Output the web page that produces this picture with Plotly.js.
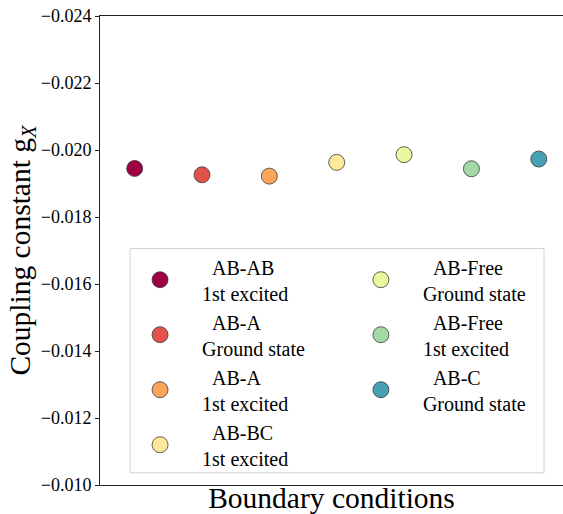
<!DOCTYPE html>
<html><head><meta charset="utf-8">
<script src="https://cdn.plot.ly/plotly-3.0.1.min.js"></script>
<style>html,body{margin:0;padding:0;background:#fff}</style>
</head><body>
<div id="chart" style="width:563px;height:514px"></div>
<script>
const categories = ["AB-AB 1st excited","AB-A Ground state","AB-A 1st excited","AB-BC 1st excited","AB-Free Ground state","AB-Free 1st excited","AB-C Ground state"];
const legendLabels = [
  "&nbsp;&nbsp;AB-AB<br>1st excited",
  "&nbsp;&nbsp;AB-A<br>Ground state",
  "&nbsp;&nbsp;AB-A<br>1st excited",
  "&nbsp;&nbsp;AB-BC<br>1st excited",
  "&nbsp;&nbsp;AB-Free<br>Ground state",
  "&nbsp;&nbsp;AB-Free<br>1st excited",
  "&nbsp;&nbsp;AB-C<br>Ground state"
];
const xPositions = [0,1,2,3,4,5,6];
const gValues = [-0.01945,-0.01926,-0.01922,-0.01963,-0.01986,-0.01944,-0.01973];
const colors = ["#9e0142","#e0524a","#fca55d","#fee89a","#eaf79f","#a2d9a4","#47a0b3"];
const legendOf = ["legend","legend","legend","legend","legend2","legend2","legend2"];

const FONT = "Liberation Serif, Times New Roman, serif";
const traces = categories.map((c,i)=>({
  type:"scatter", mode:"markers",
  x:[xPositions[i]], y:[gValues[i]],
  name: legendLabels[i],
  legend: legendOf[i],
  legendgroup: "g"+i,
  marker:{size:16, color:colors[i], line:{color:"#3a3a3a", width:0.8}},
  hoverinfo:"skip"
}));

const legendCommon = {
  bgcolor:"rgba(0,0,0,0)", borderwidth:0,
  font:{family:FONT, size:20, color:"#000"},
  traceorder:"grouped", tracegroupgap:0,
  itemwidth:74, xanchor:"left", yanchor:"top"
};

const layout = {
  width:563, height:514,
  margin:{l:100, r:0, t:16, b:29},
  paper_bgcolor:"#fff", plot_bgcolor:"#fff",
  font:{family:FONT, color:"#000"},
  showlegend:true,
  xaxis:{
    range:[-0.515, 6.36], showticklabels:false, ticks:"",
    showgrid:false, zeroline:false,
    showline:true, linecolor:"#222", linewidth:1, mirror:true,
    title:{text:"Boundary conditions", font:{family:FONT, size:29.5}, standoff:4}
  },
  yaxis:{
    range:[-0.010,-0.024], dtick:0.002, tick0:-0.024, tickformat:".3f",
    ticks:"outside", ticklen:4, tickwidth:1, tickcolor:"#222",
    tickfont:{family:FONT, size:18},
    showgrid:false, zeroline:false,
    showline:true, linecolor:"#222", linewidth:1,
    title:{text:"Coupling constant g<sub><i>X</i></sub>", font:{family:FONT, size:29.5}, standoff:1}
  },
  legend:Object.assign({}, legendCommon, {x:0.039, y:0.507}),
  legend2:Object.assign({}, legendCommon, {x:0.516, y:0.507}),
  shapes:[{
    type:"rect", xref:"paper", yref:"paper",
    x0:0.065, x1:0.959, y0:0.026, y1:0.504,
    line:{color:"#d0d0d0", width:1}, fillcolor:"rgba(255,255,255,0.8)", layer:"below"
  }]
};

Plotly.newPlot("chart", traces, layout, {staticPlot:true, displayModeBar:false});
</script>
</body></html>
